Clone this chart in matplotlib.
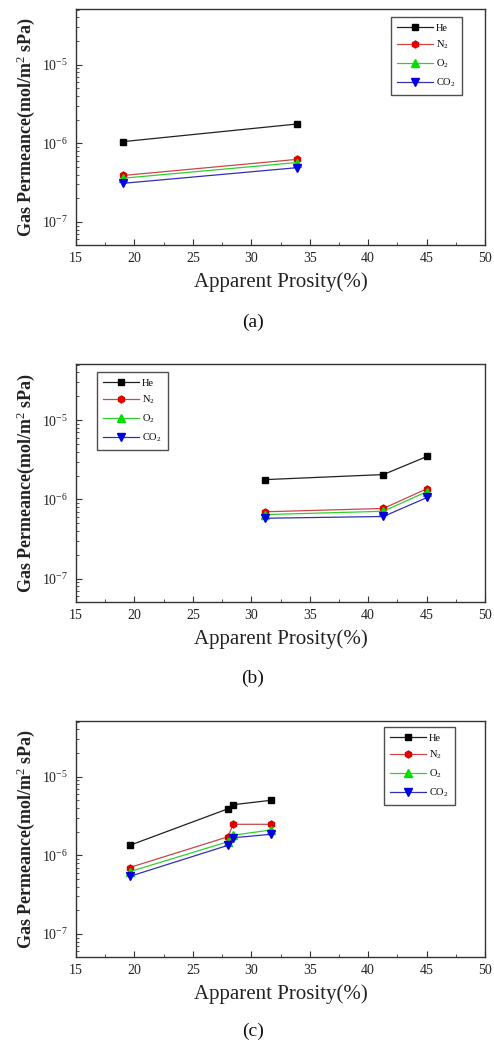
import matplotlib
matplotlib.use('Agg')
import matplotlib.pyplot as plt
from matplotlib.ticker import LogLocator, MultipleLocator, FixedLocator, NullFormatter

plt.rcParams['font.family'] = ['Liberation Serif', 'DejaVu Serif']
plt.rcParams['mathtext.fontset'] = 'custom'
plt.rcParams['mathtext.rm'] = 'Liberation Serif'
plt.rcParams['mathtext.it'] = 'Liberation Serif:italic'
plt.rcParams['mathtext.bf'] = 'Liberation Serif:bold'

# ---- data ----
gases = ['He', 'N$_2$', 'O$_2$', 'CO$_2$']

a_x = [19.0, 33.9]
a_he = [1.05e-6, 1.76e-6]
a_n2 = [0.39e-6, 0.625e-6]
a_o2 = [0.36e-6, 0.57e-6]
a_co2 = [0.31e-6, 0.49e-6]

b_x = [31.2, 41.3, 45.05]
b_he = [1.78e-6, 2.06e-6, 3.49e-6]
b_n2 = [0.70e-6, 0.77e-6, 1.37e-6]
b_o2 = [0.645e-6, 0.71e-6, 1.26e-6]
b_co2 = [0.58e-6, 0.61e-6, 1.06e-6]

c_x = [19.6, 28.0, 28.45, 31.65]
c_he = [1.34e-6, 3.9e-6, 4.4e-6, 5.0e-6]
c_n2 = [0.70e-6, 1.72e-6, 2.48e-6, 2.48e-6]
c_o2 = [0.62e-6, 1.49e-6, 1.8e-6, 2.1e-6]
c_co2 = [0.54e-6, 1.34e-6, 1.67e-6, 1.85e-6]

captions = ['(a)', '(b)', '(c)']
xticks = [15, 20, 25, 30, 35, 40, 45, 50]
yticks = [1e-7, 1e-6, 1e-5]
ytick_labels = ['$10^{-7}$', '$10^{-6}$', '$10^{-5}$']

line_colors = ['#202020', '#c84848', '#30d030', '#3030b0']
marker_colors = ['#000000', '#e00000', '#00e000', '#0000e0']
markers = ['s', 'h', '^', 'v']
msizes = [4.5, 5, 6, 6]

W, H = 494, 1043
fig = plt.figure(figsize=(W / 100, H / 100), dpi=100)

def fx(px):
    return px / W

def fy(py):
    return 1 - py / H

panels = [
    (a_x, [a_he, a_n2, a_o2, a_co2], 9, 245, (391, 17)),
    (b_x, [b_he, b_n2, b_o2, b_co2], 364, 602, (97, 372)),
    (c_x, [c_he, c_n2, c_o2, c_co2], 721, 957, (384, 727)),
]
caption_y = [322, 678, 1031]

left, right = 76, 485
for i, (xs, series, top, bot, legpos) in enumerate(panels):
    ax = fig.add_axes([fx(left), fy(bot), fx(right) - fx(left), fy(top) - fy(bot)])
    for k, ys in enumerate(series):
        ax.plot(xs, ys, color=line_colors[k], lw=0.9, marker=markers[k],
                markersize=msizes[k], markerfacecolor=marker_colors[k],
                markeredgecolor=marker_colors[k], label=gases[k])
    ax.set_yscale('log')
    ax.set_xlim(15, 50)
    ax.set_ylim(5.1e-8, 5.1e-5)
    ax.xaxis.set_major_locator(FixedLocator(xticks))
    ax.xaxis.set_minor_locator(MultipleLocator(2.5))
    ax.set_xticklabels([str(t) for t in xticks])
    ax.yaxis.set_major_locator(FixedLocator(yticks))
    ax.set_yticklabels(ytick_labels)
    ax.yaxis.set_minor_locator(LogLocator(base=10, subs=range(2, 10), numticks=20))
    ax.yaxis.set_minor_formatter(NullFormatter())
    ax.tick_params(which='major', direction='in', length=4, width=0.8,
                   labelsize=10, top=False, right=False, colors='#333333',
                   labelcolor='#222222')
    ax.tick_params(which='minor', direction='in', length=2, width=0.6,
                   top=False, right=False, colors='#333333')
    ax.tick_params(axis='x', pad=5)
    ax.tick_params(axis='y', pad=6)
    for s in ax.spines.values():
        s.set_linewidth(1.0)
        s.set_color('#333333')
    ax.set_xlabel('Apparent Prosity(%)', fontsize=15, labelpad=5, color='#222222')
    ax.set_ylabel('Gas Permeance(mol/m$^2$ sPa)', fontsize=13, fontweight='bold',
                  color='#222222')
    ax.yaxis.set_label_coords(-0.095, 0.5)
    leg = ax.legend(loc='upper left', bbox_to_anchor=(fx(legpos[0]), fy(legpos[1])),
                    bbox_transform=fig.transFigure, fontsize=7.5, frameon=True,
                    fancybox=False, edgecolor='#222222', handlelength=3.4,
                    borderpad=0.6, labelspacing=0.6, handletextpad=0.3,
                    borderaxespad=0)
    leg.get_frame().set_linewidth(1.0)
    fig.text(fx(253), fy(caption_y[i]), captions[i], ha='center', va='center',
             fontsize=14, color='#111111')

fig.savefig('out.png', dpi=100)
